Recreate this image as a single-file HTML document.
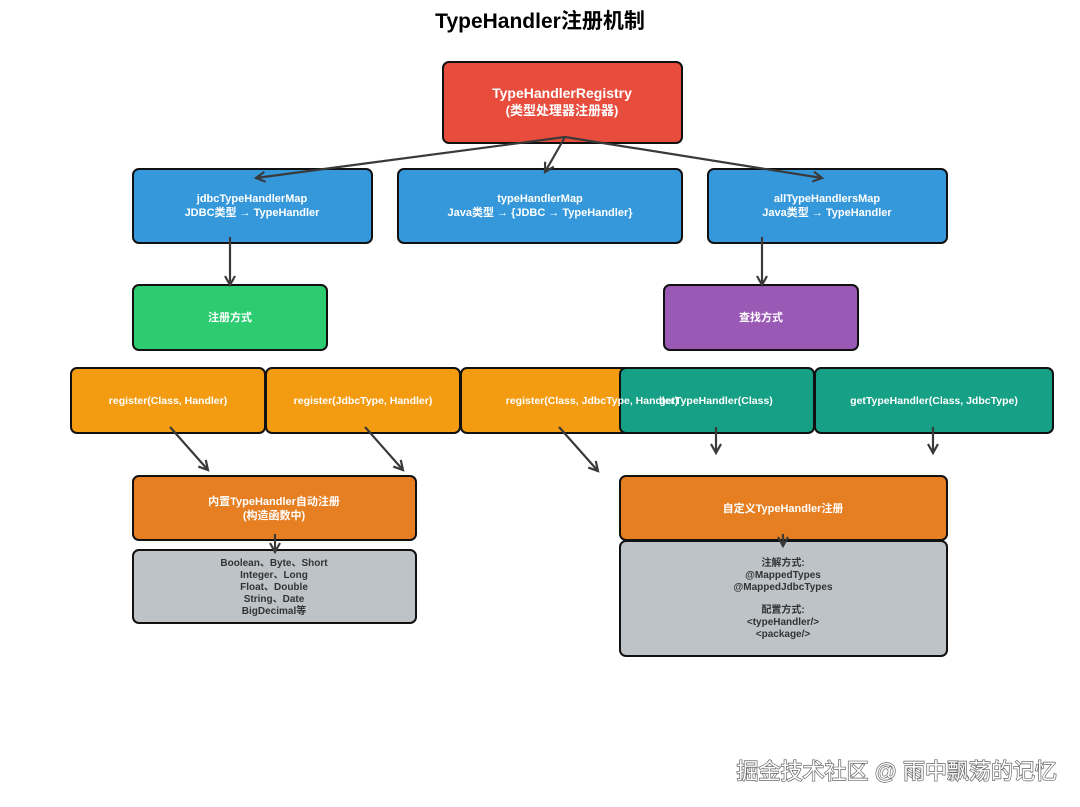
<!DOCTYPE html>
<html><head><meta charset="utf-8"><style>
html,body{margin:0;padding:0;background:#fff;}
svg{display:block;font-family:"Liberation Sans","Noto Sans CJK SC",sans-serif;}
.w{fill:#fff;font-weight:bold;font-size:11px;text-anchor:middle;}
.d{fill:#333;font-weight:bold;font-size:10px;text-anchor:middle;}
rect{stroke:#111;stroke-width:2;}
.a{stroke:#3a3a3a;stroke-width:2.2;fill:none;}
</style></head><body>
<svg width="1080" height="807" viewBox="0 0 1080 807">
<defs><marker id="m" markerWidth="14" markerHeight="14" refX="10" refY="6" orient="auto" markerUnits="userSpaceOnUse"><path d="M1,1 L10,6 L1,11" fill="none" stroke="#3a3a3a" stroke-width="2.2"/></marker></defs>
<text x="540" y="28" text-anchor="middle" font-size="21" font-weight="bold" fill="#000">TypeHandler注册机制</text>

<rect x="443" y="62" width="239" height="81" rx="6" fill="#e74c3c"/>
<text class="w" x="562" y="98" style="font-size:14px">TypeHandlerRegistry</text>
<text class="w" x="562" y="115" style="font-size:13px">(类型处理器注册器)</text>

<rect x="133" y="169" width="239" height="74" rx="6" fill="#3498db"/>
<text class="w" x="252" y="202">jdbcTypeHandlerMap</text><text class="w" x="252" y="216">JDBC类型 → TypeHandler</text>
<rect x="398" y="169" width="284" height="74" rx="6" fill="#3498db"/>
<text class="w" x="540" y="202">typeHandlerMap</text><text class="w" x="540" y="216">Java类型 → {JDBC → TypeHandler}</text>
<rect x="708" y="169" width="239" height="74" rx="6" fill="#3498db"/>
<text class="w" x="827" y="202">allTypeHandlersMap</text><text class="w" x="827" y="216">Java类型 → TypeHandler</text>

<path class="a" d="M565,137 L256,178" marker-end="url(#m)"/>
<path class="a" d="M565,137 L545,172" marker-end="url(#m)"/>
<path class="a" d="M565,137 L822,178" marker-end="url(#m)"/>

<rect x="133" y="285" width="194" height="65" rx="6" fill="#2ecc71"/>
<text class="w" x="230" y="321">注册方式</text>
<rect x="664" y="285" width="194" height="65" rx="6" fill="#9b59b6"/>
<text class="w" x="761" y="321">查找方式</text>
<path class="a" d="M230,237 L230,285" marker-end="url(#m)"/>
<path class="a" d="M762,237 L762,285" marker-end="url(#m)"/>

<rect x="71" y="368" width="194" height="65" rx="6" fill="#f39c12"/>
<rect x="266" y="368" width="194" height="65" rx="6" fill="#f39c12"/>
<rect x="461" y="368" width="194" height="65" rx="6" fill="#f39c12"/>
<rect x="620" y="368" width="194" height="65" rx="6" fill="#16a085"/>
<rect x="815" y="368" width="238" height="65" rx="6" fill="#16a085"/>
<g class="w" style="font-size:10.5px">
<text x="168" y="404">register(Class, Handler)</text>
<text x="363" y="404">register(JdbcType, Handler)</text>
<text x="592" y="404">register(Class, JdbcType, Handler)</text>
<text x="716" y="404">getTypeHandler(Class)</text>
<text x="934" y="404">getTypeHandler(Class, JdbcType)</text>
</g>

<path class="a" d="M170,427 L208,470" marker-end="url(#m)"/>
<path class="a" d="M365,427 L403,470" marker-end="url(#m)"/>
<path class="a" d="M559,427 L598,471" marker-end="url(#m)"/>
<path class="a" d="M716,427 L716,453" marker-end="url(#m)"/>
<path class="a" d="M933,427 L933,453" marker-end="url(#m)"/>

<rect x="133" y="476" width="283" height="64" rx="6" fill="#e67e22"/>
<text class="w" x="274" y="505">内置TypeHandler自动注册</text><text class="w" x="274" y="519">(构造函数中)</text>
<rect x="133" y="550" width="283" height="73" rx="6" fill="#bdc3c7"/>
<g class="d"><text x="274" y="566">Boolean、Byte、Short</text><text x="274" y="578">Integer、Long</text><text x="274" y="590">Float、Double</text><text x="274" y="602">String、Date</text><text x="274" y="614">BigDecimal等</text></g>
<path class="a" d="M275,534 L275,552" marker-end="url(#m)"/>

<rect x="620" y="476" width="327" height="64" rx="6" fill="#e67e22"/>
<text class="w" x="783" y="512">自定义TypeHandler注册</text>
<rect x="620" y="541" width="327" height="115" rx="6" fill="#bdc3c7"/>
<g class="d"><text x="783" y="566">注解方式:</text><text x="783" y="578">@MappedTypes</text><text x="783" y="590">@MappedJdbcTypes</text><text x="783" y="613">配置方式:</text><text x="783" y="625">&lt;typeHandler/&gt;</text><text x="783" y="637">&lt;package/&gt;</text></g>
<path class="a" d="M783,534 L783,546" marker-end="url(#m)"/>

<text x="1057" y="779" text-anchor="end" font-size="22" fill="#fff" stroke="#666" stroke-width="1.4" paint-order="stroke">掘金技术社区 @ 雨中飘荡的记忆</text>
</svg>
</body></html>
